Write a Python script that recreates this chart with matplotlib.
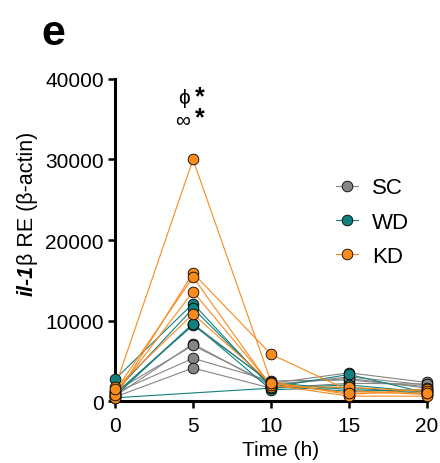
import numpy as np
import matplotlib
matplotlib.use("Agg")
import matplotlib.pyplot as plt
from matplotlib.lines import Line2D

plt.rcParams['font.family'] = ['Liberation Sans', 'DejaVu Sans']

times = [0, 5, 10, 15, 20]
groups = ["SC", "WD", "KD"]
colors = {"SC": "#858585", "WD": "#12807e", "KD": "#f98a1c"}

# each row = one subject, columns = time points (nan = missing)
sc_values = [
    [800, 9600, 2200, 3500, 2300],
    [600, 7100, 1900, 3000, 2000],
    [1000, 5300, 2500, 2600, 1800],
    [500, 4100, 1600, 2200, 2100],
    [1200, 6900, 2100, 2800, 1600],
]
wd_values = [
    [2700, 12100, 1700, 3300, 1000],
    [900, 9400, 2300, 1400, 1200],
    [600, 9600, 1400, 1700, 900],
    [1100, 11500, 1900, 1200, 1400],
    [400, np.nan, 1600, 2000, 1100],
]
kd_values = [
    [1700, 30000, 2400, 800, 1500],
    [400, 15900, 5800, 1300, 800],
    [1200, 15400, 1800, 1700, 1200],
    [800, 13600, 2000, 600, 600],
    [1500, 10800, 2200, 1000, 1000],
]
data = {"SC": sc_values, "WD": wd_values, "KD": kd_values}

fig = plt.figure(figsize=(4.4, 4.64), dpi=100)
ax = fig.add_axes([0.2614, 0.1336, 0.709, 0.694])

t = np.array(times, dtype=float)
for g in groups:
    for row in data[g]:
        v = np.array(row, dtype=float)
        m = ~np.isnan(v)
        ax.plot(t[m], v[m], '-', color=colors[g], lw=0.8, zorder=2, clip_on=False)
for g in groups:
    for row in data[g]:
        v = np.array(row, dtype=float)
        m = ~np.isnan(v)
        ax.plot(t[m], v[m], 'o', color=colors[g], ms=7.7, mec='black', mew=0.6,
                zorder=3, clip_on=False)

ax.set_xlim(0, 20)
ax.set_ylim(0, 40000)
ax.set_xticks([0, 5, 10, 15, 20])
ax.set_yticks([0, 10000, 20000, 30000, 40000])
ax.set_yticklabels(["0", "10000", "20000", "30000", "40000"])
for s in ['top', 'right']:
    ax.spines[s].set_visible(False)
for s in ['left', 'bottom']:
    ax.spines[s].set_linewidth(2.2)
ax.tick_params(axis='both', length=5, width=1.8, labelsize=15, pad=3)
ax.tick_params(axis='x', pad=6)
ax.set_xlabel("Time (h)", fontsize=15, labelpad=0)
ax.xaxis.set_label_coords(0.53, -0.12)

handles = [Line2D([0], [0], color=colors[g], lw=0.8, marker='o', ms=7.7,
                  mec='black', mew=0.6) for g in groups]
leg = ax.legend(handles, groups, loc='center left', bbox_to_anchor=(0.645, 0.555),
                frameon=False, fontsize=16, handlelength=1.0, handletextpad=0.6,
                labelspacing=0.6)

ax.text(4.8, 37700, "ϕ", fontsize=15, ha='right', va='center')
ax.text(5.1, 37900, "*", fontsize=18, fontweight='bold', ha='left', va='center')
ax.text(4.8, 34900, "∞", fontsize=15, ha='right', va='center')
ax.text(5.1, 35200, "*", fontsize=18, fontweight='bold', ha='left', va='center')

fig.text(0.095, 0.903, "e", fontsize=31, fontweight='bold', ha='left', va='baseline')

# y label: bold italic gene name + regular rest
fig.canvas.draw()
ylx = 27 / 440
t1 = fig.text(ylx, 1 - 296 / 464, "il-1", fontsize=15.5, fontweight='bold',
              fontstyle='italic', rotation=90, ha='center', va='bottom')
fig.canvas.draw()
bb = t1.get_window_extent()
top = bb.y1 / fig.bbox.height
fig.text(ylx, top, "β RE (β-actin)", fontsize=15.5, rotation=90,
         ha='center', va='bottom')

fig.savefig("out.png", dpi=100)
